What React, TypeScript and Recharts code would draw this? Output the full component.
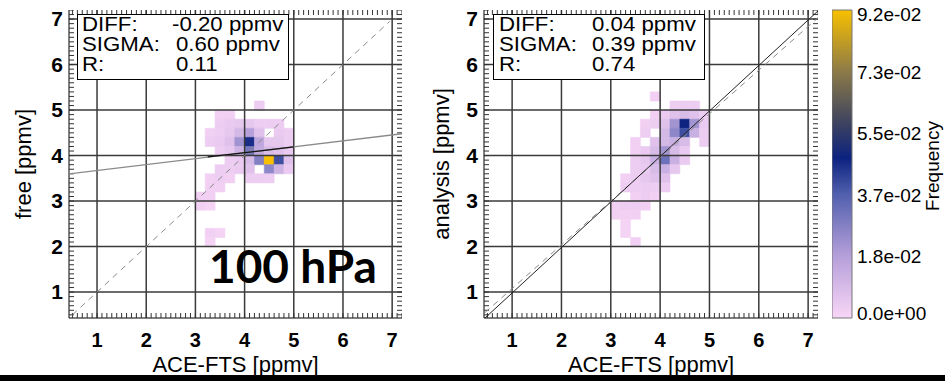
import React from 'react';
import { ComposedChart, Scatter, XAxis, YAxis, ReferenceLine, ReferenceArea, BarChart, Bar } from 'recharts';

// axis range shared by both panels (ppmv)
const axisMin = 0.43;
const axisMax = 7.2;
const gridValues = [1, 2, 3, 4, 5, 6, 7];
const minorTicks = Array.from({ length: 68 }, (_, i) => (5 + i) / 10);

// 2D histogram cells: left edge of each column, lower edge of each row (top row first)
const cellSize = 0.2;
const cellLeft = [2.8, 3.0, 3.2, 3.4, 3.6, 3.8, 4.0, 4.2, 4.4, 4.6, 4.8];
const cellBottom = [5.2, 5.0, 4.8, 4.6, 4.4, 4.2, 4.0, 3.8, 3.6, 3.4, 3.2, 3.0, 2.8, 2.6, 2.4, 2.2, 2.0];

// frequency in units of 1e-3
const freeFreq = [
  [0, 0, 0, 0, 0, 0, 0, 0, 0, 0, 0],
  [0, 0, 0, 0, 0, 0, 0, 3, 0, 0, 0],
  [0, 0, 0, 2, 2, 0, 0, 0, 0, 0, 0],
  [0, 0, 0, 3, 4, 5, 5, 3, 3, 3, 0],
  [0, 0, 2, 3, 5, 10, 18, 7, 0, 4, 3],
  [0, 0, 3, 4, 7, 22, 46, 16, 5, 5, 3],
  [0, 0, 0, 3, 5, 12, 30, 15, 9, 7, 4],
  [0, 0, 0, 0, 3, 4, 9, 28, 92, 40, 7],
  [0, 0, 0, 3, 3, 4, 7, 0, 26, 12, 4],
  [0, 0, 2, 3, 2, 0, 3, 3, 3, 0, 0],
  [0, 0, 2, 2, 0, 0, 0, 0, 0, 0, 0],
  [0, 2, 2, 0, 0, 0, 0, 0, 0, 0, 0],
  [0, 2, 1, 0, 0, 0, 0, 0, 0, 0, 0],
  [0, 0, 0, 0, 0, 0, 0, 0, 0, 0, 0],
  [0, 0, 0, 0, 0, 0, 0, 0, 0, 0, 0],
  [0, 0, 2, 1, 0, 0, 0, 0, 0, 0, 0],
  [0, 0, 1, 0, 0, 0, 0, 0, 0, 0, 0],
];

const analysisFreq = [
  [0, 0, 0, 0, 0, 2, 0, 0, 0, 0, 0],
  [0, 0, 0, 0, 0, 0, 0, 3, 3, 3, 0],
  [0, 0, 0, 0, 0, 2, 4, 7, 9, 7, 3],
  [0, 0, 0, 0, 2, 3, 7, 22, 48, 22, 4],
  [0, 0, 0, 0, 3, 0, 10, 26, 40, 13, 3],
  [0, 0, 0, 2, 0, 7, 10, 13, 9, 0, 3],
  [0, 0, 0, 2, 4, 9, 22, 9, 4, 0, 0],
  [0, 0, 0, 3, 5, 13, 32, 13, 4, 0, 0],
  [0, 0, 0, 3, 4, 9, 13, 5, 0, 0, 0],
  [0, 0, 2, 3, 5, 7, 7, 0, 0, 0, 0],
  [0, 0, 3, 3, 3, 3, 3, 0, 0, 0, 0],
  [0, 0, 0, 2, 3, 2, 0, 0, 0, 0, 0],
  [0, 2, 3, 3, 2, 0, 0, 0, 0, 0, 0],
  [0, 2, 2, 2, 0, 0, 0, 0, 0, 0, 0],
  [0, 0, 1, 0, 0, 0, 0, 0, 0, 0, 0],
  [0, 0, 1, 0, 0, 0, 0, 0, 0, 0, 0],
  [0, 0, 0, 2, 0, 0, 0, 0, 0, 0, 0],
];
const freqMax = 92;

// fit and 1:1 lines
const freeFit = [{ x: 0.43, y: 3.6 }, { x: 7.2, y: 4.48 }];
const freeFitCore = [{ x: 3.25, y: 3.97 }, { x: 5.0, y: 4.19 }];
const freeOneToOne = [{ x: 0.5, y: 0.5 }, { x: 6.95, y: 6.95 }];
const analysisFit = [{ x: 0.45, y: 0.43 }, { x: 7.2, y: 7.18 }];
const analysisOneToOne = [{ x: 0.45, y: 0.55 }, { x: 7.2, y: 7.03 }];

const statLabels = ['DIFF:', 'SIGMA:', 'R:'];
const freeStats = ['-0.20 ppmv', '0.60 ppmv', '0.11'];
const analysisStats = ['0.04 ppmv', '0.39 ppmv', '0.74'];

// colour bar
const cbarData = [{ name: 'scale', v: 0.092 }];
const cbarMajor = [0, 0.0184, 0.0368, 0.0552, 0.0736, 0.092];
const cbarLabels = ['0.0e+00', '1.8e-02', '3.7e-02', '5.5e-02', '7.3e-02', '9.2e-02'];

const FONT = '"Liberation Sans", Arial, Helvetica, sans-serif';

const colorStops: [number, number[]][] = [
  [0, [248, 214, 246]],
  [0.2, [182, 160, 218]],
  [0.4, [82, 96, 174]],
  [0.52, [12, 34, 128]],
  [0.63, [60, 66, 96]],
  [0.8, [140, 122, 72]],
  [1, [248, 192, 0]],
];

const freqColor = (v: number) => {
  const t = Math.min(1, v / freqMax);
  for (let i = 1; i < colorStops.length; i++) {
    const [t1, c1] = colorStops[i];
    const [t0, c0] = colorStops[i - 1];
    if (t <= t1) {
      const f = (t - t0) / (t1 - t0);
      const c = c0.map((a, k) => Math.round(a + (c1[k] - a) * f));
      return `rgb(${c[0]},${c[1]},${c[2]})`;
    }
  }
  return 'rgb(248,192,0)';
};

const BottomTick = ({ x, y, payload }: any) => (
  <text x={x} y={y + 29} textAnchor="middle" fontSize={20} fontWeight="bold" fontFamily={FONT} fill="#000">
    {payload.value}
  </text>
);

const LeftTick = ({ x, y, payload }: any) => (
  <text x={x - 6} y={y + 7} textAnchor="end" fontSize={21} fontWeight="bold" fontFamily={FONT} fill="#000">
    {payload.value}
  </text>
);

const CbarTick = ({ x, y, payload }: any) => {
  const idx = cbarMajor.indexOf(payload.value);
  const dy = idx === 0 ? -5 : idx === cbarMajor.length - 1 ? 4 : 0;
  return (
    <text x={x + 5} y={y + dy + 7} fontSize={19} fontFamily={FONT} fill="#000">
      {cbarLabels[idx]}
    </text>
  );
};

const cellAreas = (grid: number[][], prefix: string) =>
  grid.flatMap((row, r) =>
    row.map((v, c) =>
      v > 0 ? (
        <ReferenceArea
          key={`${prefix}-${r}-${c}`}
          x1={cellLeft[c]}
          x2={cellLeft[c] + cellSize}
          y1={cellBottom[r]}
          y2={cellBottom[r] + cellSize}
          fill={freqColor(v)}
          fillOpacity={1}
          stroke={freqColor(v)}
          strokeWidth={0.6}
          ifOverflow="visible"
        />
      ) : null
    )
  );

// small inward tick marks on the four frame sides, every 0.1 ppmv
const bottomMarks = minorTicks.map((v) => ({ x: v, y: axisMin }));
const topMarks = minorTicks.map((v) => ({ x: v, y: axisMax }));
const leftMarks = minorTicks.map((v) => ({ x: axisMin, y: v }));
const rightMarks = minorTicks.map((v) => ({ x: axisMax, y: v }));

const markShape = (dx: number, dy: number) => (p: any) => (
  <line x1={p.cx} y1={p.cy} x2={p.cx + dx} y2={p.cy + dy} stroke="#333" strokeWidth={1} />
);

const noShape = () => <g />;

function Panel({ left, width, grid, prefix, children }: any) {
  return (
    <div style={{ position: 'absolute', left, top: 0 }}>
      <ComposedChart width={width} height={375} margin={{ top: 10, right: 8, bottom: 0, left: 0 }}>
        <XAxis
          type="number"
          dataKey="x"
          domain={[axisMin, axisMax]}
          ticks={gridValues}
          interval={0}
          allowDataOverflow
          height={57}
          tickSize={0}
          tickMargin={0}
          tickLine={false}
          axisLine={{ stroke: '#000' }}
          tick={BottomTick}
        />
        <XAxis xAxisId="top" orientation="top" type="number" domain={[axisMin, axisMax]} allowDataOverflow height={0} tick={false} tickLine={false} axisLine={{ stroke: '#000' }} />
        <YAxis
          type="number"
          dataKey="y"
          domain={[axisMin, axisMax]}
          ticks={gridValues}
          interval={0}
          allowDataOverflow
          width={69}
          tickSize={0}
          tickMargin={0}
          tickLine={false}
          axisLine={{ stroke: '#000' }}
          tick={LeftTick}
        />
        <YAxis yAxisId="right" orientation="right" type="number" domain={[axisMin, axisMax]} allowDataOverflow width={0} tick={false} tickLine={false} axisLine={{ stroke: '#000' }} />
        {cellAreas(grid, prefix)}
        {gridValues.map((v) => (
          <ReferenceLine key={`gx${v}`} x={v} stroke="#3a3a3a" strokeWidth={1.5} />
        ))}
        {gridValues.map((v) => (
          <ReferenceLine key={`gy${v}`} y={v} stroke="#3a3a3a" strokeWidth={1.5} />
        ))}
        <Scatter data={bottomMarks} shape={markShape(0, -5)} isAnimationActive={false} />
        <Scatter data={topMarks} shape={markShape(0, 5)} isAnimationActive={false} />
        <Scatter data={leftMarks} shape={markShape(5, 0)} isAnimationActive={false} />
        <Scatter data={rightMarks} shape={markShape(-5, 0)} isAnimationActive={false} />
        {children}
      </ComposedChart>
    </div>
  );
}

export default function App() {
  return (
    <div style={{ position: 'fixed', left: 0, top: 0, width: 945, height: 381, overflow: 'hidden', background: '#fff' }}>
      <Panel left={0} width={410} grid={freeFreq} prefix="free">
        <Scatter data={freeOneToOne} line={{ stroke: '#8a8a8a', strokeWidth: 1, strokeDasharray: '6 5' }} shape={noShape} isAnimationActive={false} />
        <Scatter data={freeFit} line={{ stroke: '#8a8a8a', strokeWidth: 1.3 }} shape={noShape} isAnimationActive={false} />
        <Scatter data={freeFitCore} line={{ stroke: '#111', strokeWidth: 1.3 }} shape={noShape} isAnimationActive={false} />
      </Panel>
      <Panel left={415} width={411} grid={analysisFreq} prefix="ana">
        <Scatter data={analysisOneToOne} line={{ stroke: '#8a8a8a', strokeWidth: 1, strokeDasharray: '6 5' }} shape={noShape} isAnimationActive={false} />
        <Scatter data={analysisFit} line={{ stroke: '#222', strokeWidth: 1 }} shape={noShape} isAnimationActive={false} />
      </Panel>

      <div style={{ position: 'absolute', left: 832, top: 0 }}>
        <BarChart width={113} height={375} data={cbarData} margin={{ top: 10, right: 0, bottom: 57, left: 0 }} barCategoryGap={0}>
          <defs>
            <linearGradient id="cbarGrad" x1="0" y1="1" x2="0" y2="0">
              {colorStops.map(([t, c]) => (
                <stop key={t} offset={t} stopColor={`rgb(${c[0]},${c[1]},${c[2]})`} />
              ))}
            </linearGradient>
          </defs>
          <XAxis dataKey="name" hide />
          <YAxis
            orientation="right"
            type="number"
            domain={[0, 0.092]}
            ticks={cbarMajor}
            interval={0}
            width={93}
            tickSize={0}
            tickMargin={0}
            tickLine={false}
            axisLine={false}
            tick={CbarTick}
          />
          <Bar dataKey="v" fill="url(#cbarGrad)" stroke="#777" strokeWidth={1} isAnimationActive={false} />
        </BarChart>
      </div>

      <svg width={945} height={381} style={{ position: 'absolute', left: 0, top: 0, pointerEvents: 'none' }}>
        <g fontFamily={FONT} fill="#000">
          <rect x={77.5} y={14.5} width={211} height={65} fill="#fff" stroke="#000" />
          <rect x={493.5} y={14.5} width={211} height={65} fill="#fff" stroke="#000" />
          {statLabels.map((s, i) => (
            <g key={s} fontSize={21}>
              <text transform={`translate(82 ${31 + i * 20}) scale(1.06 1)`}>{s}</text>
              <text transform={`translate(${i === 0 ? 172 : 176} ${31 + i * 20}) scale(1.06 1)`}>{freeStats[i]}</text>
              <text transform={`translate(499 ${31 + i * 20}) scale(1.06 1)`}>{s}</text>
              <text transform={`translate(592 ${31 + i * 20}) scale(1.06 1)`}>{analysisStats[i]}</text>
            </g>
          ))}
          <text x={235.5} y={372} fontSize={22} textAnchor="middle">ACE-FTS [ppmv]</text>
          <text x={651} y={372} fontSize={22} textAnchor="middle">ACE-FTS [ppmv]</text>
          <text x={31} y={164} fontSize={22} textAnchor="middle" transform="rotate(-90 31 164)">free [ppmv]</text>
          <text x={449} y={164} fontSize={22} textAnchor="middle" transform="rotate(-90 449 164)">analysis [ppmv]</text>
          <text x={939} y={166} fontSize={19} textAnchor="middle" transform="rotate(-90 939 166)">Frequency</text>
          <text x={209} y={283} fontSize={46} fontWeight="bold" fontFamily="Lato, 'Open Sans', sans-serif">100 hPa</text>
        </g>
        <rect x={0} y={375} width={945} height={6} fill="#000" />
      </svg>
    </div>
  );
}
